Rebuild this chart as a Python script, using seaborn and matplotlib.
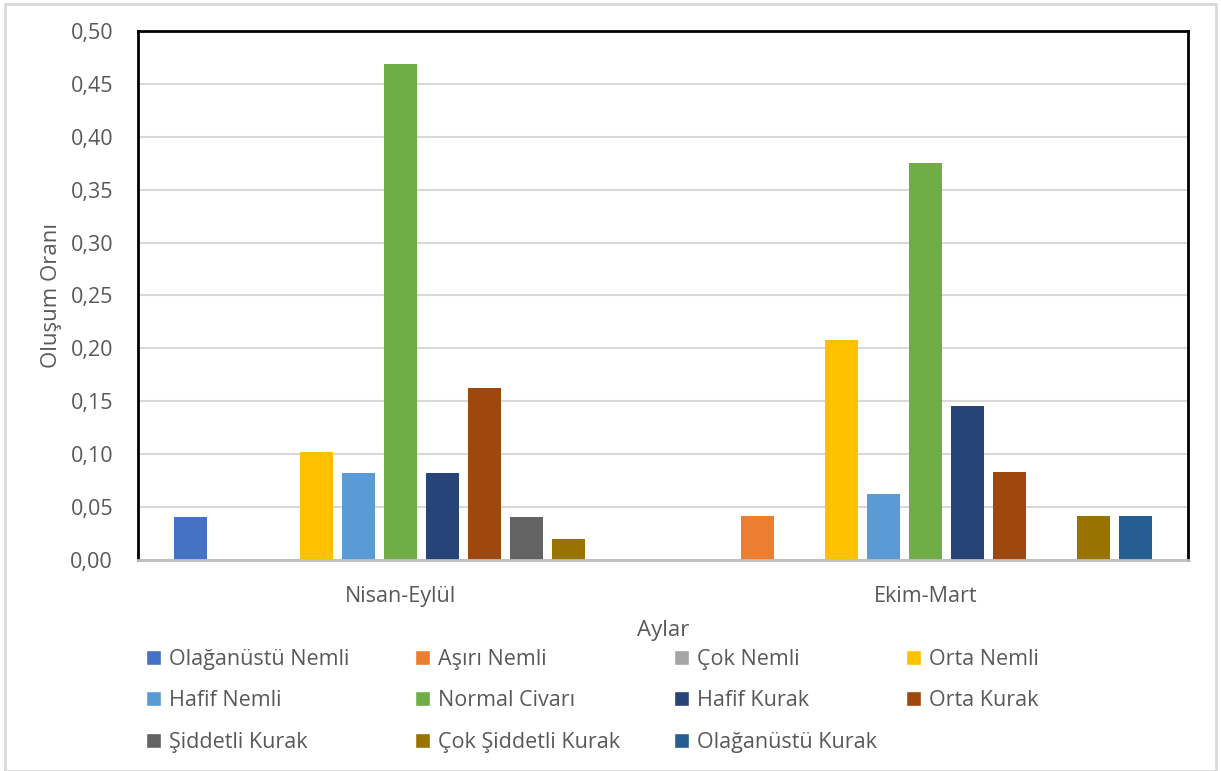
import seaborn as sns
import matplotlib.pyplot as plt
import pandas as pd
from matplotlib.patches import Patch, Rectangle
from matplotlib.ticker import FuncFormatter, MultipleLocator

# Data
periods = ["Nisan-Eylül", "Ekim-Mart"]
classes = [
    "Olağanüstü Nemli", "Aşırı Nemli", "Çok Nemli", "Orta Nemli",
    "Hafif Nemli", "Normal Civarı", "Hafif Kurak", "Orta Kurak",
    "Şiddetli Kurak", "Çok Şiddetli Kurak", "Olağanüstü Kurak",
]
nisan_eylul = [0.041, 0.0, 0.0, 0.102, 0.082, 0.469, 0.082, 0.163, 0.041, 0.020, 0.0]
ekim_mart = [0.0, 0.042, 0.0, 0.208, 0.0625, 0.375, 0.146, 0.083, 0.0, 0.042, 0.042]
colors = [
    "#4472C4", "#ED7D31", "#A5A5A5", "#FFC000", "#5B9BD5", "#70AD47",
    "#264478", "#9E480E", "#636363", "#997300", "#255E91",
]

df = pd.DataFrame({
    "Aylar": [periods[0]] * len(classes) + [periods[1]] * len(classes),
    "Sınıf": classes + classes,
    "Oran": nisan_eylul + ekim_mart,
})

sns.set_theme(style="white")
plt.rcParams["font.family"] = ["Open Sans", "DejaVu Sans"]
text_color = "#595959"

fig = plt.figure(figsize=(12.21, 7.71), dpi=100)
ax = fig.add_axes([138 / 1221, 1 - 560 / 771, 1050 / 1221, 529 / 771])

sns.barplot(
    data=df, x="Aylar", y="Oran", hue="Sınıf",
    hue_order=classes, palette=colors, order=periods, saturation=1,
    width=0.88, gap=0.21, linewidth=0, ax=ax, legend=False,
)

# Axes
ax.set_ylim(0, 0.5)
ax.yaxis.set_major_locator(MultipleLocator(0.05))
ax.yaxis.set_major_formatter(FuncFormatter(lambda v, p: f"{v:.2f}".replace(".", ",")))
ax.grid(axis="y", color="#D9D9D9", linewidth=1.5)
ax.set_axisbelow(True)
ax.tick_params(axis="both", labelsize=15.5, colors=text_color, length=0)
ax.tick_params(axis="x", pad=19)
ax.tick_params(axis="y", pad=18)
for s in ["left", "top", "right"]:
    ax.spines[s].set_color("black")
    ax.spines[s].set_linewidth(2)
ax.spines["bottom"].set_color("#BFBFBF")
ax.spines["bottom"].set_linewidth(2)

ax.set_ylabel("Oluşum Oranı", fontsize=16, color=text_color, labelpad=6)
ax.set_xlabel("Aylar", fontsize=16, color=text_color, labelpad=9)

# Legend: one column each, row-major order like the reference
col_x = [146, 415, 674, 906]
for c, x in enumerate(col_x):
    idx = list(range(c, len(classes), 4))
    fig.legend(
        [Patch(facecolor=colors[i]) for i in idx], [classes[i] for i in idx],
        loc="upper left", bbox_to_anchor=(x / 1221, 1 - 649 / 771),
        frameon=False, fontsize=15.5, labelcolor=text_color,
        handlelength=0.7, handleheight=0.7, handletextpad=0.35,
        labelspacing=0.95, borderpad=0, borderaxespad=0,
    )

# Outer chart border
fig.patches.append(Rectangle((5 / 1221, 0), 1211 / 1221, 1 - 4 / 771,
                             transform=fig.transFigure, fill=False,
                             edgecolor="#D9D9D9", linewidth=2))

fig.savefig("out.png", dpi=100)
